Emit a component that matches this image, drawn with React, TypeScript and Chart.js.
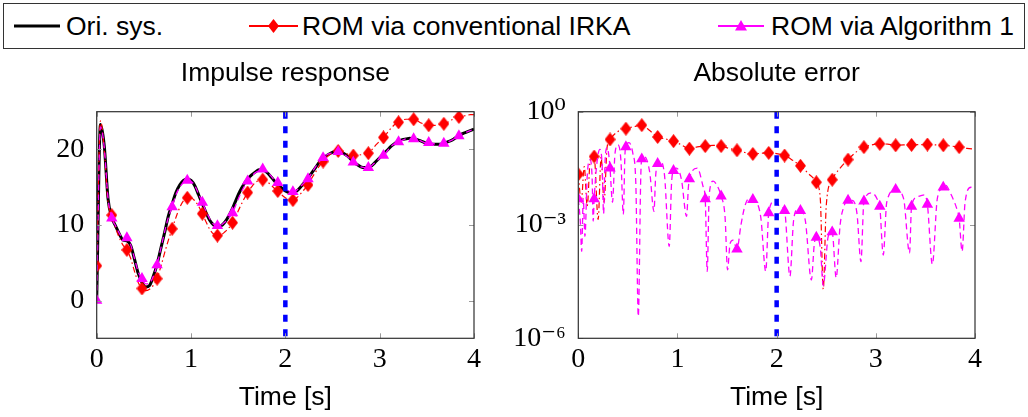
import React, { useEffect, useRef } from 'react';
import { Chart, registerables } from 'chart.js';

Chart.register(...registerables);

// ---------- data ----------
const timeGrid: number[] = Array.from({ length: 101 }, (_, i) => Math.round(i * 4) / 100);

const oriSys = [
  0, 23.3, 20.5, 13.5, 11.0, 9.9, 8.8, 8.0, 7.9, 7.3,
  5.5, 3.6, 2.4, 1.8, 2.0, 3.2, 4.8, 6.9, 9.0, 11.2,
  12.8, 14.3, 15.3, 15.9, 16.1, 15.9, 15.2, 14.0, 12.8, 11.6,
  10.6, 10.0, 9.8, 9.9, 10.4, 11.2, 12.2, 13.4, 14.5, 15.4,
  16.1, 16.6, 17.0, 17.3, 17.3, 17.0, 16.5, 15.9, 15.4, 14.9,
  14.5, 14.3, 14.3, 14.5, 15.0, 15.6, 16.2, 16.9, 17.6, 18.3,
  18.8, 19.2, 19.5, 19.7, 19.7, 19.6, 19.3, 18.9, 18.4, 18.0,
  17.7, 17.6, 17.6, 17.9, 18.4, 18.9, 19.4, 19.9, 20.4, 20.8,
  21.1, 21.3, 21.4, 21.5, 21.4, 21.3, 21.1, 20.9, 20.8, 20.7,
  20.7, 20.7, 20.8, 21.0, 21.2, 21.5, 21.8, 22.1, 22.3, 22.5,
  22.7,
];

const romIrka = [
  4.6, 23.8, 20.0, 13.0, 11.3, 9.6, 8.3, 7.3, 6.7, 5.6,
  3.9, 2.4, 1.6, 1.3, 1.5, 2.0, 2.9, 4.5, 6.3, 8.0,
  9.5, 11.0, 12.3, 13.2, 13.6, 13.6, 13.2, 12.5, 11.5, 10.4,
  9.4, 8.8, 8.6, 8.7, 9.1, 9.6, 10.3, 11.3, 12.4, 13.4,
  14.3, 15.0, 15.6, 15.9, 16.0, 15.8, 15.4, 14.9, 14.5, 14.0,
  13.6, 13.3, 13.3, 13.6, 14.1, 14.7, 15.3, 16.2, 17.0, 17.8,
  18.4, 19.0, 19.4, 19.7, 19.8, 19.7, 19.5, 19.3, 19.2, 19.2,
  19.3, 19.4, 19.5, 20.0, 20.6, 21.1, 21.6, 22.2, 22.8, 23.3,
  23.6, 23.9, 24.0, 24.0, 24.0, 23.8, 23.5, 23.3, 23.2, 23.2,
  23.2, 23.3, 23.4, 23.6, 23.9, 24.1, 24.3, 24.4, 24.5, 24.6,
  24.6,
];

const romAlg1 = [
  0.0, 23.0, 20.3, 13.6, 10.9, 9.9, 8.9, 8.3, 8.3, 7.4,
  5.6, 3.8, 2.9, 2.2, 2.3, 3.2, 4.7, 6.9, 9.1, 11.0,
  12.4, 14.0, 15.0, 15.6, 15.9, 15.8, 15.2, 14.1, 13.0, 11.8,
  10.8, 10.1, 9.9, 10.0, 10.4, 10.9, 11.6, 12.8, 14.0, 15.0,
  15.8, 16.4, 16.9, 17.2, 17.4, 17.1, 16.6, 16.0, 15.6, 15.1,
  14.7, 14.5, 14.4, 14.6, 15.1, 15.6, 16.1, 16.9, 17.7, 18.4,
  18.9, 19.3, 19.5, 19.7, 19.7, 19.5, 19.2, 18.8, 18.3, 17.9,
  17.7, 17.6, 17.6, 17.9, 18.4, 18.8, 19.2, 19.8, 20.4, 20.8,
  21.0, 21.2, 21.4, 21.4, 21.4, 21.3, 21.1, 20.9, 20.9, 20.8,
  20.7, 20.7, 20.8, 21.0, 21.2, 21.5, 21.8, 22.1, 22.3, 22.5,
  22.7,
];

const errIrkaTimes = [
  0.0, 0.03, 0.06, 0.09, 0.12, 0.16, 0.2, 0.23, 0.26, 0.29,
  0.32, 0.4, 0.48, 0.56, 0.64, 0.72, 0.8, 0.88, 0.96, 1.04,
  1.12, 1.2, 1.28, 1.36, 1.44, 1.52, 1.6, 1.68, 1.76, 1.84,
  1.92, 2.0, 2.08, 2.16, 2.24, 2.32, 2.4, 2.44, 2.47, 2.5,
  2.56, 2.64, 2.72, 2.8, 2.88, 2.96, 3.04, 3.12, 3.2, 3.28,
  3.36, 3.44, 3.52, 3.6, 3.68, 3.76, 3.84, 3.92, 4.0,
];
const errIrka = [
  2.2e-2, 4.0e-3, 3.5e-2, 3.2e-3, 5.0e-2, 6.5e-2, 1.4e-3, 6.3e-2, 4.0e-3, 0.112,
  0.184, 0.3, 0.355, 0.4, 0.44, 0.316, 0.214, 0.19, 0.166, 0.132,
  0.105, 0.117, 0.123, 0.129, 0.123, 0.107, 0.095, 0.083, 0.076, 0.079,
  0.081, 0.078, 0.069, 0.052, 0.037, 0.023, 0.0135, 5.0e-3, 2.0e-5, 3.2e-3,
  0.0158, 0.032, 0.054, 0.085, 0.115, 0.132, 0.141, 0.138, 0.129, 0.132,
  0.132, 0.135, 0.135, 0.132, 0.129, 0.123, 0.115, 0.107, 0.102,
];

const errAlg1Times = [
  0.0, 0.02, 0.034, 0.05, 0.067, 0.09, 0.118, 0.14, 0.15, 0.16,
  0.19, 0.218, 0.24, 0.255, 0.27, 0.29, 0.31, 0.32, 0.345, 0.37,
  0.4, 0.43, 0.454, 0.47, 0.48, 0.51, 0.55, 0.58, 0.605, 0.63,
  0.64, 0.67, 0.72, 0.763, 0.78, 0.8, 0.83, 0.87, 0.917, 0.94,
  0.96, 0.99, 1.04, 1.092, 1.11, 1.12, 1.2, 1.26, 1.28, 1.3,
  1.32, 1.36, 1.4, 1.44, 1.48, 1.505, 1.53, 1.56, 1.6, 1.64,
  1.68, 1.72, 1.76, 1.84, 1.89, 1.92, 1.98, 2.03, 2.08, 2.134,
  2.17, 2.21, 2.24, 2.29, 2.35, 2.38, 2.4, 2.44, 2.47, 2.52,
  2.56, 2.6, 2.64, 2.68, 2.72, 2.76, 2.81, 2.85, 2.88, 2.96,
  3.02, 3.04, 3.075, 3.11, 3.2, 3.28, 3.34, 3.36, 3.42, 3.49,
  3.52, 3.57, 3.62, 3.68, 3.7, 3.76, 3.82, 3.84, 3.87, 3.9,
  3.96, 4.0,
];
const errAlg1 = [
  4.9e-3, 1.26e-3, 2.0e-4, 5.0e-3, 5.0e-4, 2.0e-2, 5.4e-2, 1.6e-2, 1.26e-3, 4.9e-3,
  5.0e-2, 0.1, 4.0e-2, 2.0e-3, 5.0e-2, 0.112, 6.3e-2, 3.2e-2, 4.0e-3, 7.9e-2,
  0.132, 5.0e-2, 1.9e-3, 7.1e-2, 0.117, 0.151, 7.9e-2, 1.26e-2, 3.8e-6, 2.0e-2,
  5.6e-2, 6.3e-2, 2.5e-2, 2.3e-3, 2.0e-2, 4.2e-2, 4.8e-2, 2.0e-2, 2.7e-4, 1.26e-2,
  2.75e-2, 3.2e-2, 1.6e-2, 1.7e-3, 1.0e-2, 1.66e-2, 3.2e-2, 1.0e-2, 4.9e-3, 5.9e-5,
  6.3e-3, 1.45e-2, 1.1e-2, 5.8e-3, 1.6e-3, 6.5e-5, 3.2e-4, 4.0e-4, 2.3e-4, 1.0e-3,
  3.2e-3, 5.0e-3, 4.7e-3, 1.6e-3, 5.9e-5, 2.1e-3, 4.3e-3, 3.2e-3, 2.4e-3, 4.4e-5,
  1.26e-3, 2.5e-3, 2.4e-3, 1.26e-3, 3.5e-5, 3.2e-4, 4.7e-4, 2.5e-4, 2.5e-5, 5.0e-4,
  6.5e-4, 4.0e-5, 1.0e-3, 3.2e-3, 4.5e-3, 4.5e-3, 2.0e-3, 1.07e-4, 4.3e-3, 7.1e-3,
  4.5e-3, 3.1e-3, 1.6e-4, 4.0e-3, 8.7e-3, 5.0e-3, 1.8e-4, 3.1e-3, 5.6e-3, 6.3e-3,
  3.5e-3, 9.1e-5, 5.0e-3, 1.0e-2, 1.15e-2, 6.3e-3, 2.5e-3, 1.5e-3, 2.0e-4, 4.0e-3,
  1.0e-2, 8.9e-3,
];

const xTicks = [0, 1, 2, 3, 4];
const leftYTicks = [0, 10, 20];
const rightYTicks = [1e-6, 1e-3, 1];
const rightYTickLabels = ['10\u207B\u2076', '10\u207B\u00B3', '10\u2070'];
const splitTime = 2;
const markEvery = 0.16;
const lastMark = 3.84;

const seriesNames = ['Ori. sys.', 'ROM via conventional IRKA', 'ROM via Algorithm 1'];
const plotTitles = ['Impulse response', 'Absolute error'];
const xTitle = 'Time [s]';

// ---------- styles ----------
const SANS = "'Liberation Sans', Arial, sans-serif";
const SERIF = "'Liberation Serif', 'DejaVu Serif', serif";
const RED = '#ff0000';
const MAGENTA = '#ff00ff';

function isMark(t: number) {
  const k = t / markEvery;
  return Math.abs(k - Math.round(k)) < 1e-6 && t <= lastMark + 1e-6;
}

function makeDiamond(w: number, h: number, color: string) {
  const c = document.createElement('canvas');
  c.width = w;
  c.height = h;
  const g = c.getContext('2d')!;
  g.fillStyle = color;
  g.beginPath();
  g.moveTo(w / 2, 0);
  g.lineTo(w, h / 2);
  g.lineTo(w / 2, h);
  g.lineTo(0, h / 2);
  g.closePath();
  g.fill();
  return c;
}

const framePlugin = {
  id: 'frame',
  afterDatasetsDraw(chart: any) {
    const { ctx, chartArea: a, scales } = chart;
    const xs = scales.x;
    const ys = scales.y;
    ctx.save();
    // vertical split marker
    const px = xs.getPixelForValue(splitTime);
    ctx.strokeStyle = '#0000ff';
    ctx.lineWidth = 4.5;
    ctx.setLineDash([7, 7.5]);
    ctx.beginPath();
    ctx.moveTo(px, a.top);
    ctx.lineTo(px, a.bottom + 2);
    ctx.stroke();
    ctx.setLineDash([]);
    // inward ticks
    ctx.strokeStyle = '#9a9a9a';
    ctx.lineWidth = 1;
    const tl = 5;
    ctx.beginPath();
    xs.ticks.forEach((t: any) => {
      const p = Math.round(xs.getPixelForValue(t.value)) + 0.5;
      ctx.moveTo(p, a.bottom); ctx.lineTo(p, a.bottom - tl);
      ctx.moveTo(p, a.top); ctx.lineTo(p, a.top + tl);
    });
    ys.ticks.forEach((t: any) => {
      const p = Math.round(ys.getPixelForValue(t.value)) + 0.5;
      ctx.moveTo(a.left, p); ctx.lineTo(a.left + tl, p);
      ctx.moveTo(a.right, p); ctx.lineTo(a.right - tl, p);
    });
    ctx.stroke();
    // frame
    ctx.strokeStyle = '#303030';
    ctx.lineWidth = 1.2;
    ctx.strokeRect(a.left, a.top, a.right - a.left, a.bottom - a.top);
    ctx.restore();
  },
};

function xScale(height: number) {
  return {
    type: 'linear',
    min: 0,
    max: 4,
    afterBuildTicks: (s: any) => { s.ticks = xTicks.map((v) => ({ value: v })); },
    afterFit: (s: any) => { s.height = height; },
    grid: { display: false, drawTicks: false },
    border: { display: false },
    ticks: { padding: 4.4, font: { family: SERIF, size: 28 }, color: '#000', maxRotation: 0, autoSkip: false },
    title: { display: true, text: xTitle, color: '#000', font: { family: SANS, size: 26.5 }, padding: { top: 0, bottom: 3.6 } },
  };
}

function titleOpts(text: string) {
  return {
    display: true,
    text,
    fullSize: false,
    color: '#000',
    font: { family: SANS, size: 26.5, weight: 'normal' },
    padding: { top: 5.6, bottom: 22.3 },
  };
}

export default function App() {
  const leftRef = useRef<HTMLCanvasElement>(null);
  const rightRef = useRef<HTMLCanvasElement>(null);

  useEffect(() => {
    const diamond = makeDiamond(11, 14, RED);
    const radius = (ctx: any) => (ctx.raw && isMark(ctx.raw.x) ? 6 : 0);
    const triRadius = (ctx: any) => (ctx.raw && isMark(ctx.raw.x) ? 6.6 : 0);

    const left = new Chart(leftRef.current!, {
      type: 'line',
      data: {
        datasets: [
          {
            label: seriesNames[0],
            data: timeGrid.map((t, i) => ({ x: t, y: oriSys[i] })),
            borderColor: '#000',
            borderWidth: 3,
            pointRadius: 0,
            cubicInterpolationMode: 'monotone',
            order: 2,
          },
          {
            label: seriesNames[1],
            data: timeGrid.map((t, i) => ({ x: t, y: romIrka[i] })),
            borderColor: RED,
            borderWidth: 1.2,
            borderDash: [6, 3, 1.5, 3],
            pointStyle: diamond,
            pointRadius: radius,
            pointBackgroundColor: RED,
            pointBorderWidth: 0,
            cubicInterpolationMode: 'monotone',
            order: 1,
          },
          {
            label: seriesNames[2],
            data: timeGrid.map((t, i) => ({ x: t, y: romAlg1[i] })),
            borderColor: MAGENTA,
            borderWidth: 1.3,
            borderDash: [6, 4],
            pointStyle: 'triangle',
            pointRadius: triRadius,
            pointBackgroundColor: MAGENTA,
            pointBorderColor: MAGENTA,
            pointBorderWidth: 0,
            cubicInterpolationMode: 'monotone',
            order: 0,
          },
        ],
      },
      options: {
        animation: false,
        responsive: false,
        events: [],
        layout: { padding: { left: 0, right: 26, top: 0, bottom: 0 } },
        plugins: {
          legend: { display: false },
          tooltip: { enabled: false },
          title: titleOpts(plotTitles[0]),
        },
        scales: {
          x: xScale(78.7),
          y: {
            type: 'linear',
            min: -5,
            max: 25,
            afterBuildTicks: (s: any) => { s.ticks = leftYTicks.map((v) => ({ value: v })); },
            afterFit: (s: any) => { s.width = 96.7; },
            grid: { display: false, drawTicks: false },
            border: { display: false },
            ticks: { padding: 12.5, font: { family: SERIF, size: 28 }, color: '#000' },
          },
        },
      } as any,
      plugins: [framePlugin],
    } as any);

    const right = new Chart(rightRef.current!, {
      type: 'line',
      data: {
        datasets: [
          {
            label: seriesNames[1],
            data: errIrkaTimes.map((t, i) => ({ x: t, y: errIrka[i] })),
            borderColor: RED,
            borderWidth: 1.2,
            borderDash: [6, 3, 1.5, 3],
            pointStyle: diamond,
            pointRadius: radius,
            pointBackgroundColor: RED,
            pointBorderWidth: 0,
            cubicInterpolationMode: 'monotone',
            order: 1,
          },
          {
            label: seriesNames[2],
            data: errAlg1Times.map((t, i) => ({ x: t, y: errAlg1[i] })),
            borderColor: MAGENTA,
            borderWidth: 1.3,
            borderDash: [6, 4],
            pointStyle: 'triangle',
            pointRadius: triRadius,
            pointBackgroundColor: MAGENTA,
            pointBorderColor: MAGENTA,
            pointBorderWidth: 0,
            cubicInterpolationMode: 'monotone',
            order: 0,
          },
        ],
      },
      options: {
        animation: false,
        responsive: false,
        events: [],
        layout: { padding: { left: 0, right: 53, top: 0, bottom: 0 } },
        plugins: {
          legend: { display: false },
          tooltip: { enabled: false },
          title: titleOpts(plotTitles[1]),
        },
        scales: {
          x: xScale(78.7),
          y: {
            type: 'logarithmic',
            min: 1e-6,
            max: 1,
            afterBuildTicks: (s: any) => { s.ticks = rightYTicks.map((v) => ({ value: v })); },
            afterFit: (s: any) => { s.width = 78.3; },
            grid: { display: false, drawTicks: false },
            border: { display: false },
            ticks: {
              padding: 12.5,
              font: { family: SERIF, size: 28 },
              color: '#000',
              callback: (_v: any, i: number) => rightYTickLabels[i],
            },
          },
        },
      } as any,
      plugins: [framePlugin],
    } as any);

    return () => {
      left.destroy();
      right.destroy();
    };
  }, []);

  const legendItems = [
    { x1: 14, x2: 60, color: '#000', w: 3, marker: null as null | string, textX: 66 },
    { x1: 249, x2: 298, color: RED, w: 2, marker: 'diamond', textX: 302 },
    { x1: 718, x2: 764, color: MAGENTA, w: 2, marker: 'triangle', textX: 771 },
  ];
  const cy = 22; // centre inside legend box (relative to its inner top)

  return (
    <div style={{ position: 'absolute', left: 0, top: 0, width: 1028, height: 417, background: '#fff', overflow: 'hidden' }}>
      <div
        style={{
          position: 'absolute', left: 3, top: 3, width: 1022, height: 46,
          border: '1px solid #333', boxSizing: 'border-box', fontFamily: SANS, fontSize: 26.5, color: '#000',
        }}
      >
        <svg width={1020} height={44} style={{ position: 'absolute', left: -4, top: -4, overflow: 'visible' }}>
          {legendItems.map((it, i) => {
            const mx = (it.x1 + it.x2) / 2;
            const y = cy + 4;
            return (
              <g key={i}>
                <line x1={it.x1} y1={y} x2={it.x2} y2={y} stroke={it.color} strokeWidth={it.w} />
                {it.marker === 'diamond' && (
                  <polygon points={`${mx},${y - 7} ${mx + 5.5},${y} ${mx},${y + 7} ${mx - 5.5},${y}`} fill={it.color} />
                )}
                {it.marker === 'triangle' && (
                  <polygon points={`${mx},${y - 6} ${mx + 6},${y + 4.5} ${mx - 6},${y + 4.5}`} fill={it.color} />
                )}
              </g>
            );
          })}
        </svg>
        {legendItems.map((it, i) => (
          <span
            key={i}
            style={{ position: 'absolute', left: it.textX - 4, top: 0, height: 44, lineHeight: '44px', whiteSpace: 'nowrap' }}
          >
            {seriesNames[i]}
          </span>
        ))}
      </div>
      <canvas ref={leftRef} width={500} height={365} style={{ position: 'absolute', left: 0, top: 52, width: 500, height: 365 }} />
      <canvas ref={rightRef} width={528} height={365} style={{ position: 'absolute', left: 500, top: 52, width: 528, height: 365 }} />
    </div>
  );
}
